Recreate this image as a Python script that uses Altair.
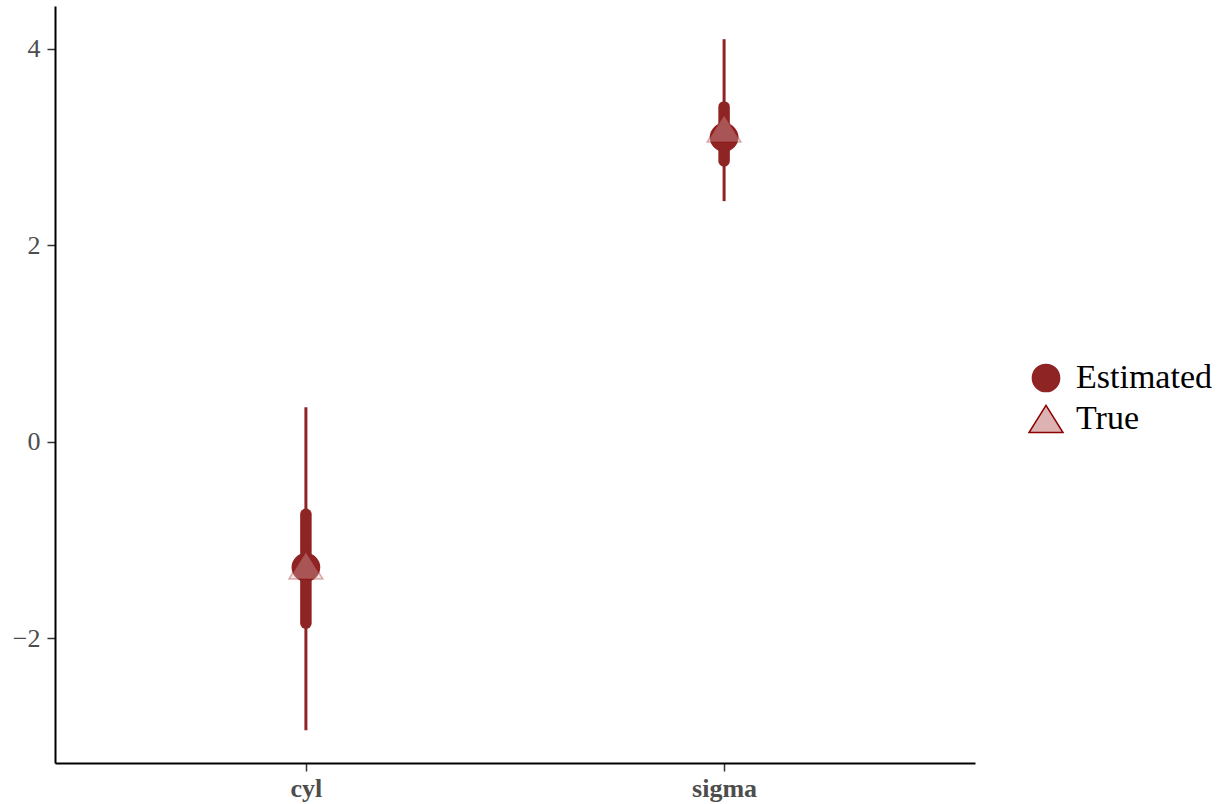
import altair as alt
import pandas as pd

# ---- data ----
params = ["cyl", "sigma"]
est = [-1.28, 3.10]
true_vals = [-1.26, 3.19]
lo95 = [-2.94, 2.45]
hi95 = [0.35, 4.10]
lo50 = [-1.85, 2.86]
hi50 = [-0.74, 3.41]
point_types = ["Estimated", "True"]
y_ticks = [-2, 0, 2, 4]

intervals = pd.DataFrame({
    "param": params, "lo95": lo95, "hi95": hi95, "lo50": lo50, "hi50": hi50,
})
points = pd.DataFrame({
    "param": params + params,
    "value": est + true_vals,
    "type": [point_types[0]] * len(params) + [point_types[1]] * len(params),
})

RED = "#8E2424"
DARKRED = "#8B0000"
PINK = "#DCB2B2"
FONT = "Liberation Serif"
CIRCLE = "M0.8,0A0.8,0.8 0 1,1 -0.8,0A0.8,0.8 0 1,1 0.8,0Z"
TRIANGLE = "M0,-0.8L1,0.8L-1,0.8Z"

x_enc = alt.X(
    "param:N",
    scale=alt.Scale(type="point", padding=0.6),
    sort=params,
    axis=alt.Axis(title=None, labelAngle=0, labelFontWeight="bold", labelPadding=4),
)
y_scale = alt.Scale(domain=[-3.273, 4.438], nice=False, zero=False)
y_axis = alt.Axis(title=None, values=y_ticks, labelPadding=7)

thin = alt.Chart(intervals).mark_rule(strokeWidth=3, color=RED).encode(
    x=x_enc,
    y=alt.Y("lo95:Q", scale=y_scale, axis=y_axis),
    y2="hi95:Q",
)
thick = alt.Chart(intervals).mark_rule(strokeWidth=11.5, color=RED, strokeCap="round").encode(
    x=x_enc,
    y=alt.Y("lo50:Q", scale=y_scale, axis=y_axis),
    y2="hi50:Q",
)

leg = alt.Legend(
    title=None, orient="none", legendX=973, legendY=354,
    labelFont=FONT, labelFontSize=34, labelColor="black",
    symbolSize=1156, symbolStrokeWidth=1.5, padding=0, rowPadding=6, labelOffset=12,
)
pts = alt.Chart(points).mark_point(size=1156, strokeWidth=1.5, opacity=1).encode(
    x=x_enc,
    y=alt.Y("value:Q", scale=y_scale, axis=y_axis),
    shape=alt.Shape("type:N", scale=alt.Scale(domain=point_types, range=[CIRCLE, TRIANGLE]), legend=leg),
    fill=alt.Fill("type:N", scale=alt.Scale(domain=point_types, range=[RED, PINK]), legend=leg),
    stroke=alt.Stroke("type:N", scale=alt.Scale(domain=point_types, range=[RED, DARKRED]), legend=leg),
    fillOpacity=alt.FillOpacity("type:N", scale=alt.Scale(type="ordinal", domain=point_types, range=[1, 0.35]), legend=None),
    strokeOpacity=alt.StrokeOpacity("type:N", scale=alt.Scale(type="ordinal", domain=point_types, range=[1, 0.3]), legend=None),
)

chart = alt.layer(thin, thick, pts).properties(
    width=920, height=757,
    background="white",
    autosize=alt.AutoSizeParams(type="none"),
    padding={"left": 55, "top": 6, "right": 245, "bottom": 41},
).configure_view(stroke=None).configure_axis(
    grid=False, domainColor="black", domainWidth=2, tickColor="#333333",
    tickWidth=1.5, tickSize=8, labelFont=FONT, labelFontSize=26, labelColor="#4D4D4D",
)

chart.save("out.html", embed_options={"renderer": "svg", "actions": False})
